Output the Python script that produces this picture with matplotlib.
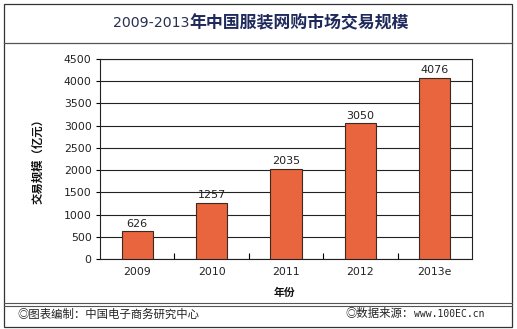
import matplotlib.pyplot as plt
from matplotlib.lines import Line2D
from matplotlib.patches import Rectangle

plt.rcParams['font.family'] = ['Noto Sans CJK SC', 'DejaVu Sans']

# 交易规模（亿元）
years = ['2009', '2010', '2011', '2012', '2013e']
values = [626, 1257, 2035, 3050, 4076]
y_ticks = [0, 500, 1000, 1500, 2000, 2500, 3000, 3500, 4000, 4500]

W, H = 517, 329
fig = plt.figure(figsize=(W / 100, H / 100), dpi=100)
fig.patch.set_facecolor('white')


def fx(px):
    return px / W


def fy(py):
    return 1 - py / H


# 外框、标题分隔线、底部双线
fig.add_artist(Rectangle((fx(4), fy(327)), fx(508), 323 / H, transform=fig.transFigure,
                         fill=False, edgecolor='#333333', linewidth=0.9))
fig.add_artist(Line2D([fx(4), fx(512)], [fy(43), fy(43)], transform=fig.transFigure,
                      color='#555555', linewidth=0.9))
for yy in (302.5, 305.5):
    fig.add_artist(Line2D([fx(4), fx(512)], [fy(yy), fy(yy)], transform=fig.transFigure,
                          color='#555555', linewidth=0.8))

# 标题
fig.text(fx(189), fy(23), '2009-2013', ha='right', va='center', fontsize=10.2,
         color='#2a3050', family=['DejaVu Sans'])
fig.text(fx(189), fy(23), '年中国服装网购市场交易规模', ha='left', va='center',
         fontsize=12.2, color='#1e2a5c', fontweight='bold')

ax = fig.add_axes([fx(100), fy(259), 372 / W, 200 / H])
x = range(len(years))
bars = ax.bar(x, values, width=0.42, color='#e8653d', edgecolor='#3a2a20', linewidth=0.8,
              zorder=3)
for b, v in zip(bars, values):
    ax.text(b.get_x() + b.get_width() / 2, v + 60, str(v), ha='center', va='bottom',
            fontsize=8, color='#222222', family=['DejaVu Sans'])

ax.set_xlim(-0.5, len(years) - 0.5)
ax.set_ylim(0, 4500)
ax.set_yticks(y_ticks)
ax.set_yticklabels([str(t) for t in y_ticks], family=['DejaVu Sans'], fontsize=7.8,
                   color='#222222')
ax.set_xticks(list(x))
ax.set_xticklabels(years, family=['DejaVu Sans'], fontsize=7.8, color='#222222')
ax.tick_params(axis='x', length=0, pad=6)
ax.tick_params(axis='y', length=3, width=0.8, pad=3)
# 类别之间的小刻度
ax.set_xticks([i + 0.5 for i in range(len(years) - 1)], minor=True)
ax.tick_params(axis='x', which='minor', direction='in', length=4, width=0.8)
ax.grid(axis='y', color='#222222', linewidth=0.8, zorder=0)
for s in ax.spines.values():
    s.set_color('#222222')
    s.set_linewidth(0.8)

fig.text(fx(285), fy(293), '年份', ha='center', va='center', fontsize=7.8,
         fontweight='bold', color='#111111')
fig.text(fx(38), fy(158), '交易规模（亿元）', ha='center', va='center', rotation=90,
         fontsize=8.2, fontweight='bold', color='#111111')

# 底部来源说明
fig.text(fx(17), fy(314), '◎图表编制：中国电子商务研究中心', ha='left', va='center',
         fontsize=8.2, color='#222222')
fig.text(fx(345), fy(314), '◎数据来源：', ha='left', va='center', fontsize=8.2,
         color='#222222')
fig.text(fx(414), fy(314), 'www.100EC.cn', ha='left', va='center', fontsize=7,
         color='#222222', family=['DejaVu Sans Mono'])

fig.savefig('out.png', dpi=100, facecolor='white')
